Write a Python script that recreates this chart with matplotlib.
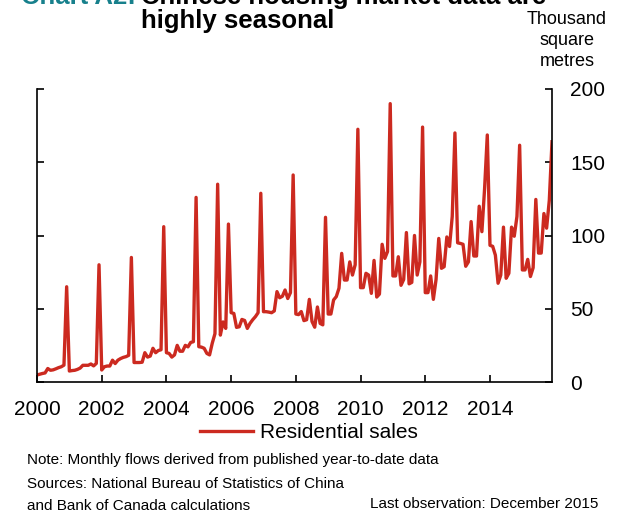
import numpy as np
import matplotlib
matplotlib.use("Agg")
from matplotlib import pyplot as plt

plt.rcParams["font.family"] = ["Liberation Sans", "DejaVu Sans"]

# monthly residential sales, thousand square metres, Jan 2000 - Dec 2015
sales_2000 = [4.8, 5.3, 5.8, 6.2, 9.2, 8, 8.3, 9, 9.8, 10.4, 11.5, 65]
sales_2001 = [7.5, 7.8, 8, 8.6, 9.5, 11.4, 11.4, 11.4, 12.3, 11, 12.7, 80]
sales_2002 = [8.2, 10.4, 10.9, 10.9, 14.9, 12.6, 14.9, 16, 16.8, 17.3, 18.2, 85]
sales_2003 = [13.3, 13.3, 13.3, 13.5, 20, 17, 17.7, 23, 20, 21.5, 22, 106]
sales_2004 = [20, 19.5, 17, 18.5, 25, 21, 21, 25, 24, 27, 27.5, 126]
sales_2005 = [24.1, 23.8, 23, 19.5, 18.5, 26.5, 33, 135, 32, 41, 36.6, 107.8]
sales_2006 = [47.3, 46.8, 37.3, 37.7, 42.7, 42, 36.6, 40, 42.5, 44.6, 47.3, 128.8]
sales_2007 = [48, 48, 47.7, 47.3, 48.5, 61.7, 57.5, 58.5, 62.8, 57, 61, 141.3]
sales_2008 = [46.4, 46, 48.1, 41.9, 42.5, 56.4, 41.3, 37.4, 51.2, 40, 39, 112.4]
sales_2009 = [46.4, 46.4, 56, 58.3, 64, 87.8, 69.6, 69.6, 82, 73, 80, 172.5]
sales_2010 = [64.4, 64.4, 74.2, 73, 60.5, 83, 58, 60, 94, 84.4, 89, 190]
sales_2011 = [72.4, 72.4, 85.5, 66, 70, 102, 67, 68, 100, 73, 82, 174]
sales_2012 = [61, 61, 72.4, 56.4, 70, 98, 77.6, 78.7, 99, 92.5, 113, 170]
sales_2013 = [95, 94.6, 94, 79, 82, 109.5, 86, 86, 120, 102.6, 132, 168.6]
sales_2014 = [93.3, 92.6, 86.6, 67.4, 73, 105.7, 70.8, 74.2, 105.7, 99.5, 113, 161.6]
sales_2015 = [76.5, 76.5, 83.7, 72, 78, 124.6, 88, 88, 115, 105, 124, 164]

years = [str(y) for y in range(2000, 2016, 2)]
yticks = [0, 50, 100, 150, 200]

sales = np.concatenate([sales_2000, sales_2001, sales_2002, sales_2003,
                        sales_2004, sales_2005, sales_2006, sales_2007,
                        sales_2008, sales_2009, sales_2010, sales_2011,
                        sales_2012, sales_2013, sales_2014, sales_2015])
months = np.arange(len(sales))

red = "#CC2A20"
teal = "#17808C"
W, H = 618, 516

fig = plt.figure(figsize=(W / 100, H / 100), dpi=100)
ax = fig.add_axes([37 / W, 1 - 382 / H, (552 - 37) / W, (382 - 89) / H])

line, = ax.plot(months, sales, color=red, lw=2.4, solid_joinstyle="round")

ax.set_xlim(0, 191)
ax.set_ylim(0, 200)
ax.set_xticks(np.arange(0, 192, 24))
ax.set_xticklabels(years)
ax.set_yticks(yticks)

ax.spines["top"].set_visible(False)
for s in ["left", "right", "bottom"]:
    ax.spines[s].set_linewidth(1.2)
ax.tick_params(axis="x", direction="in", length=5, width=1.2, labelsize=15, pad=13)
ax.tick_params(axis="y", direction="in", length=5, width=1.2, labelsize=15,
               left=True, right=True, labelleft=False, labelright=True, pad=13)

def fy(px):
    return 1 - px / H

# title, clipped at the top like the reference
fig.text(136 / W, fy(4), "Chart A2:", color=teal, fontsize=18.5, fontweight="bold",
         ha="right", va="baseline")
fig.text(141 / W, fy(4), "Chinese housing market data are", fontsize=18.5, fontweight="bold", va="baseline")
fig.text(141 / W, fy(28), "highly seasonal", fontsize=18.5, fontweight="bold", va="baseline")

fig.text(567 / W, fy(11), "Thousand\nsquare\nmetres", fontsize=13, ha="center", va="top",
         multialignment="center", linespacing=1.32)

fig.legend(handles=[line], labels=["Residential sales"], loc="center",
           bbox_to_anchor=(309 / W, fy(433)), frameon=False, fontsize=15,
           handlelength=2.55, handletextpad=0.3)

fig.text(27 / W, fy(460), "Note: Monthly flows derived from published year-to-date data",
         fontsize=11, va="center")
fig.text(27 / W, fy(484), "Sources: National Bureau of Statistics of China", fontsize=11, va="center")
fig.text(27 / W, fy(506), "and Bank of Canada calculations", fontsize=11, va="center")
fig.text(598 / W, fy(504), "Last observation: December 2015", fontsize=11, ha="right", va="center")

fig.savefig("out.png", dpi=100)
